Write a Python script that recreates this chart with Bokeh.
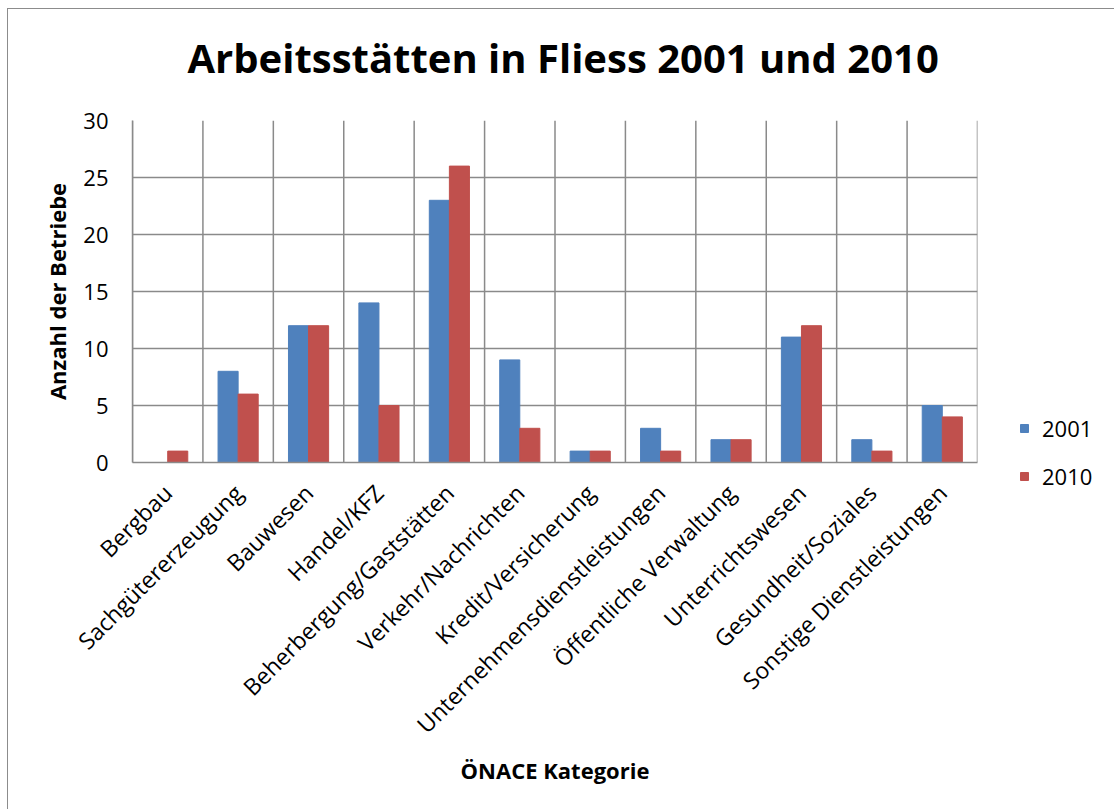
import math
from bokeh.plotting import figure
from bokeh.models import (ColumnDataSource, FactorRange, Range1d, Span, Legend,
                          LegendItem, FixedTicker, Title)
from bokeh.transform import dodge
from bokeh.embed import file_html
from bokeh.resources import INLINE

categories = ["Bergbau", "Sachgütererzeugung", "Bauwesen", "Handel/KFZ",
              "Beherbergung/Gaststätten", "Verkehr/Nachrichten",
              "Kredit/Versicherung", "Unternehmensdienstleistungen",
              "Öffentliche Verwaltung", "Unterrichtswesen",
              "Gesundheit/Soziales", "Sonstige Dienstleistungen"]
values_2001 = [0, 8, 12, 14, 23, 9, 1, 3, 2, 11, 2, 5]
values_2010 = [1, 6, 12, 5, 26, 3, 1, 1, 2, 12, 1, 4]
series_names = ["2001", "2010"]
y_ticks = [0, 5, 10, 15, 20, 25, 30]
title_text = "Arbeitsstätten in Fliess 2001 und 2010"

BLUE = "#4F81BD"
RED = "#C0504D"
GRID = "#8a8a8a"
FONT = "Open Sans"

src = ColumnDataSource(dict(cat=categories, v2001=values_2001, v2010=values_2010))

p = figure(frame_width=845, frame_height=342,
           x_range=FactorRange(*categories), y_range=Range1d(0, 30),
           output_backend="svg", toolbar_location=None,
           min_border_left=124, min_border_right=135,
           min_border_top=111, min_border_bottom=347,
           styles={"margin-left": "7px", "margin-top": "8px",
                   "border-left": "1px solid #8c8c8c",
                   "border-top": "1px solid #8c8c8c"})

# spacer panel between frame and title, then the title itself
p.add_layout(Title(text=" ", text_font_size="2px", standoff=32), "above")
p.add_layout(Title(text=title_text, text_font=FONT, text_font_style="bold",
                   text_font_size="40px", align="left", offset=55, standoff=0,
                   text_color="black"), "above")

p.outline_line_color = None
p.xgrid.visible = False
p.ygrid.grid_line_color = GRID
p.ygrid.grid_line_width = 1.5

# vertical gridlines on category boundaries
for i in range(len(categories) + 1):
    p.add_layout(Span(location=i, dimension="height", line_color=GRID,
                      line_width=1.5, level="underlay"))

bar_w = 0.285
r1 = p.vbar(x=dodge("cat", -bar_w / 2, range=p.x_range), top="v2001", width=bar_w,
            source=src, fill_color=BLUE, line_color=BLUE)
r2 = p.vbar(x=dodge("cat", bar_w / 2, range=p.x_range), top="v2010", width=bar_w,
            source=src, fill_color=RED, line_color=RED)

# axes
p.yaxis.ticker = FixedTicker(ticks=y_ticks)
p.yaxis.major_tick_in = 0
p.yaxis.major_tick_out = 0
p.yaxis.minor_tick_in = 0
p.yaxis.minor_tick_out = 0
p.yaxis.axis_line_color = GRID
p.yaxis.axis_line_width = 1.5
p.yaxis.major_label_text_font = FONT
p.yaxis.major_label_text_font_size = "22px"
p.yaxis.major_label_text_color = "black"
p.yaxis.major_label_standoff = 24
p.yaxis.axis_label = "Anzahl der Betriebe"
p.yaxis.axis_label_text_font = FONT
p.yaxis.axis_label_text_font_style = "bold"
p.yaxis.axis_label_text_font_size = "22px"
p.yaxis.axis_label_text_color = "black"
p.yaxis.axis_label_standoff = 8

p.xaxis.major_tick_in = 0
p.xaxis.major_tick_out = 0
p.xaxis.axis_line_color = GRID
p.xaxis.axis_line_width = 1.5
p.xaxis.major_label_orientation = math.pi / 4
p.xaxis.major_label_text_font = FONT
p.xaxis.major_label_text_font_size = "23px"
p.xaxis.major_label_text_color = "black"
p.xaxis.major_label_standoff = 26
p.xaxis.axis_label = "ÖNACE Kategorie"
p.xaxis.axis_label_text_font = FONT
p.xaxis.axis_label_text_font_style = "bold"
p.xaxis.axis_label_text_font_size = "22px"
p.xaxis.axis_label_text_color = "black"
p.xaxis.axis_label_standoff = 1

legend = Legend(items=[LegendItem(label=series_names[0], renderers=[r1]),
                       LegendItem(label=series_names[1], renderers=[r2])],
                location=(42, -29), orientation="vertical",
                glyph_width=10, glyph_height=10, label_standoff=13,
                label_text_font=FONT, label_text_font_size="22px",
                label_text_color="black", spacing=18, padding=0, margin=0,
                border_line_color=None, background_fill_alpha=0)
p.add_layout(legend, "right")

open("out.html", "w").write(file_html(p, INLINE))
